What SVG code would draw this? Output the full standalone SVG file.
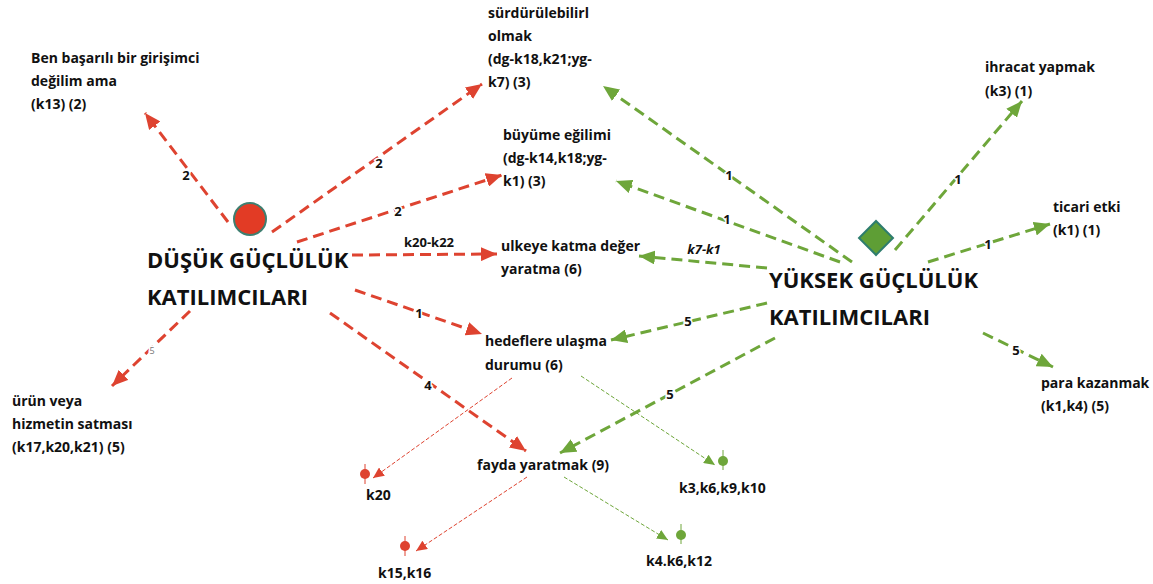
<svg xmlns="http://www.w3.org/2000/svg" width="1153" height="584" viewBox="0 0 1153 584">
<style>
text{font-family:"Open Sans","Liberation Sans",sans-serif;font-weight:bold;fill:#111}
.t{font-size:14px}
.big{font-size:22px}
.lbl{font-size:13px;paint-order:stroke;stroke:#fff;stroke-width:3px}
.r{stroke:#DE4330;fill:none;stroke-width:3;stroke-dasharray:11 6}
.g{stroke:#6EA63A;fill:none;stroke-width:3;stroke-dasharray:11 6}
.rt{stroke:#DE4330;fill:none;stroke-width:1;stroke-dasharray:4 2}
.gt{stroke:#6EA63A;fill:none;stroke-width:1;stroke-dasharray:4 2}
</style>
<defs>
<marker id="ar" markerUnits="userSpaceOnUse" markerWidth="18" markerHeight="14" refX="16" refY="7" orient="auto"><path d="M0,0 L16,7 L0,14 Z" fill="#DE4330"/></marker>
<marker id="ag" markerUnits="userSpaceOnUse" markerWidth="18" markerHeight="14" refX="16" refY="7" orient="auto"><path d="M0,0 L16,7 L0,14 Z" fill="#6EA63A"/></marker>
<marker id="art" markerUnits="userSpaceOnUse" markerWidth="12" markerHeight="10" refX="11" refY="5" orient="auto"><path d="M0,0 L11,5 L0,10 Z" fill="#DE4330"/></marker>
<marker id="agt" markerUnits="userSpaceOnUse" markerWidth="12" markerHeight="10" refX="11" refY="5" orient="auto"><path d="M0,0 L11,5 L0,10 Z" fill="#6EA63A"/></marker>
</defs>
<rect width="1153" height="584" fill="#fff"/>
<g id="connectors">
<line class="r" x1="228" y1="222" x2="145" y2="113" marker-end="url(#ar)"/>
<line class="r" x1="272" y1="232" x2="482" y2="84" marker-end="url(#ar)"/>
<line class="r" x1="297" y1="242" x2="502" y2="175" marker-end="url(#ar)"/>
<line class="r" x1="352" y1="255" x2="497" y2="254" marker-end="url(#ar)"/>
<line class="r" x1="355" y1="290" x2="482" y2="334" marker-end="url(#ar)"/>
<line class="r" x1="330" y1="313" x2="526" y2="451" marker-end="url(#ar)" stroke-width="3.5"/>
<line class="r" x1="190" y1="311" x2="112" y2="386" marker-end="url(#ar)"/>
<line class="g" x1="852" y1="262" x2="603" y2="86" marker-end="url(#ag)"/>
<line class="g" x1="840" y1="262" x2="616" y2="181" marker-end="url(#ag)"/>
<line class="g" x1="767" y1="268" x2="639" y2="256" marker-end="url(#ag)"/>
<line class="g" x1="767" y1="303" x2="611" y2="340" marker-end="url(#ag)"/>
<line class="g" x1="775" y1="338" x2="560" y2="453" marker-end="url(#ag)"/>
<line class="g" x1="895" y1="250" x2="1022" y2="101" marker-end="url(#ag)"/>
<line class="g" x1="928" y1="262" x2="1050" y2="224" marker-end="url(#ag)"/>
<line class="g" x1="983" y1="333" x2="1053" y2="367" marker-end="url(#ag)"/>
<line class="rt" x1="512" y1="378" x2="373" y2="478" marker-end="url(#art)"/>
<line class="gt" x1="581" y1="376" x2="715" y2="465" marker-end="url(#agt)"/>
<line class="rt" x1="527" y1="477" x2="416" y2="551" marker-end="url(#art)"/>
<line class="gt" x1="564" y1="477" x2="668" y2="540" marker-end="url(#agt)"/>
<text class="lbl" x="186" y="180" text-anchor="middle">2</text>
<text class="lbl" x="379" y="168" text-anchor="middle">2</text>
<text class="lbl" x="398" y="216" text-anchor="middle">2</text>
<text class="lbl" x="429" y="247" text-anchor="middle">k20-k22</text>
<text class="lbl" x="419" y="318" text-anchor="middle">1</text>
<text class="lbl" x="428" y="390" text-anchor="middle">4</text>
<text class="lbl" x="152" y="354" text-anchor="middle" style="font-size:9px;fill:#777;font-weight:normal">5</text>
<text class="lbl" x="729" y="180" text-anchor="middle">1</text>
<text class="lbl" x="727" y="224" text-anchor="middle">1</text>
<text class="lbl" x="704" y="254" text-anchor="middle" font-style="italic">k7-k1</text>
<text class="lbl" x="688" y="326" text-anchor="middle">5</text>
<text class="lbl" x="670" y="399" text-anchor="middle">5</text>
<text class="lbl" x="958" y="184" text-anchor="middle">1</text>
<text class="lbl" x="988" y="249" text-anchor="middle">1</text>
<text class="lbl" x="1016" y="355" text-anchor="middle">5</text>
</g>
<g id="dusuk">
<circle cx="250" cy="219" r="16" fill="#E23B25" stroke="#3E7E70" stroke-width="2"/>
<text class="big" x="147" y="268">DÜŞÜK GÜÇLÜLÜK</text>
<text class="big" x="147" y="305">KATILIMCILARI</text>
</g>
<g id="yuksek">
<rect x="864" y="226" width="24" height="24" fill="#5E9E35" stroke="#2E7D6E" stroke-width="2" transform="rotate(45 876 238)"/>
<text class="big" x="769" y="288">YÜKSEK GÜÇLÜLÜK</text>
<text class="big" x="769" y="325">KATILIMCILARI</text>
</g>
<g id="ben"><text class="t" x="31" y="63">Ben başarılı bir girişimci</text><text class="t" x="31" y="86">değilim ama</text><text class="t" x="31" y="109">(k13) (2)</text></g>
<g id="surdurulebilir"><text class="t" x="488" y="18">sürdürülebilirl</text><text class="t" x="488" y="41">olmak</text><text class="t" x="488" y="64">(dg-k18,k21;yg-</text><text class="t" x="488" y="87">k7) (3)</text></g>
<g id="buyume"><text class="t" x="503" y="140">büyüme eğilimi</text><text class="t" x="503" y="163">(dg-k14,k18;yg-</text><text class="t" x="503" y="186">k1) (3)</text></g>
<g id="ulkeye"><text class="t" x="501" y="251">ulkeye katma değer</text><text class="t" x="501" y="274">yaratma (6)</text></g>
<g id="hedeflere"><text class="t" x="485" y="346">hedeflere ulaşma</text><text class="t" x="485" y="370">durumu (6)</text></g>
<g id="fayda"><text class="t" x="477" y="470">fayda yaratmak (9)</text></g>
<g id="urun"><text class="t" x="12" y="406">ürün veya</text><text class="t" x="12" y="429">hizmetin satması</text><text class="t" x="12" y="452">(k17,k20,k21) (5)</text></g>
<g id="ihracat"><text class="t" x="985" y="72">ihracat yapmak</text><text class="t" x="985" y="96">(k3) (1)</text></g>
<g id="ticari"><text class="t" x="1053" y="212">ticari etki</text><text class="t" x="1053" y="235">(k1) (1)</text></g>
<g id="para"><text class="t" x="1041" y="388">para kazanmak</text><text class="t" x="1041" y="411">(k1,k4) (5)</text></g>
<g id="k20"><line x1="365" y1="464" x2="365" y2="484" stroke="#DE4330"/><circle cx="365" cy="474" r="5" fill="#DE4330"/><text class="t" x="366" y="500">k20</text></g>
<g id="k15"><line x1="405" y1="536" x2="405" y2="556" stroke="#DE4330"/><circle cx="405" cy="546" r="5" fill="#DE4330"/><text class="t" x="378" y="578">k15,k16</text></g>
<g id="k3"><line x1="723" y1="450" x2="723" y2="470" stroke="#6EA63A"/><circle cx="723" cy="461" r="5" fill="#6EA63A"/><text class="t" x="679" y="493">k3,k6,k9,k10</text></g>
<g id="k4"><line x1="681" y1="524" x2="681" y2="544" stroke="#6EA63A"/><circle cx="681" cy="535" r="5" fill="#6EA63A"/><text class="t" x="646" y="566">k4.k6,k12</text></g>
</svg>
